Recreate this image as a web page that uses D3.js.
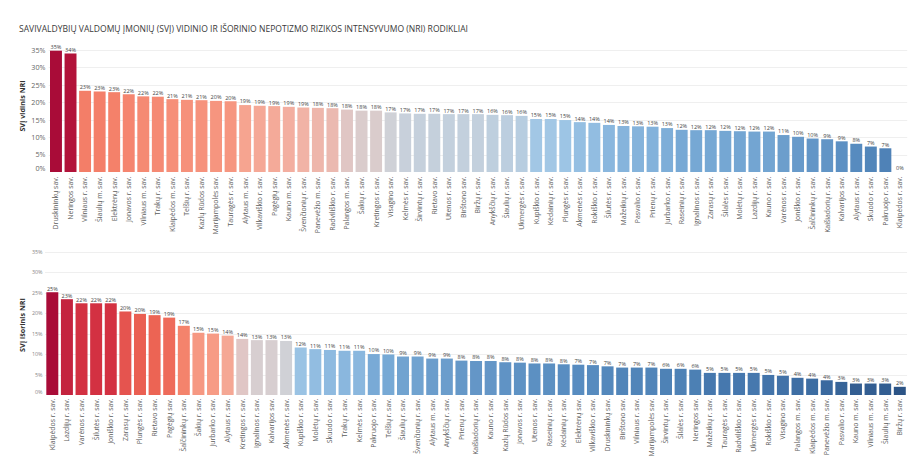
<!DOCTYPE html>
<html>
<head>
<meta charset="utf-8">
<script src="https://cdn.jsdelivr.net/npm/d3@7"></script>
<style>
  html, body { margin: 0; padding: 0; background: #fff; }
  svg { display: block; font-family: "Open Sans", "Noto Sans", sans-serif; }
</style>
</head>
<body>
<svg id="chart" width="920" height="476"></svg>
<script>
// ---------- DATA ----------
const titleText = "SAVIVALDYBIŲ VALDOMŲ ĮMONIŲ (SVĮ) VIDINIO IR IŠORINIO NEPOTIZMO RIZIKOS INTENSYVUMO (NRI) RODIKLIAI";

const innerCategories = [
  "Druskininkų sav.","Neringos sav.","Vilniaus r. sav.","Šiaulių m. sav.","Elektrėnų sav.",
  "Jonavos r. sav.","Vilniaus m. sav.","Trakų r. sav.","Klaipėdos m. sav.","Telšių r. sav.",
  "Kazlų Rūdos sav.","Marijampolės sav.","Tauragės r. sav.","Alytaus m. sav.","Vilkaviškio r. sav.",
  "Pagėgių sav.","Kauno m. sav.","Švenčionių r. sav.","Panevėžio m. sav.","Radviliškio r. sav.",
  "Palangos m. sav.","Šakių r. sav.","Kretingos r. sav.","Visagino sav.","Kelmės r. sav.",
  "Širvintų r. sav.","Rietavo sav.","Utenos r. sav.","Birštono sav.","Biržų r. sav.",
  "Anykščių r. sav.","Šiaulių r. sav.","Ukmergės r. sav.","Kupiškio r. sav.","Kėdainių r. sav.",
  "Plungės r. sav.","Akmenės r. sav.","Rokiškio r. sav.","Šilutės r. sav.","Mažeikių r. sav.",
  "Pasvalio r. sav.","Prienų r. sav.","Jurbarko r. sav.","Raseinių r. sav.","Ignalinos r. sav.",
  "Zarasų r. sav.","Šilalės r. sav.","Molėtų r. sav.","Lazdijų r. sav.","Kauno r. sav.",
  "Varėnos r. sav.","Joniškio r. sav.","Šalčininkų r. sav.","Kaišiadorių r. sav.","Kalvarijos sav.",
  "Alytaus r. sav.","Skuodo r. sav.","Pakruojo r. sav.","Klaipėdos r. sav."
];
const innerValues = [
  34.8,34.0,23.3,23.1,22.9,22.3,21.7,21.6,20.9,20.7,
  20.6,20.4,20.3,19.2,19.0,18.9,18.7,18.5,18.4,18.3,
  17.9,17.6,17.6,17.1,16.8,16.7,16.7,16.6,16.6,16.6,
  16.4,16.3,16.1,15.2,15.2,14.9,14.3,14.1,13.5,13.2,
  13.1,13.0,12.6,12.1,12.0,12.0,11.8,11.7,11.6,11.6,
  10.6,10.1,9.6,9.4,8.8,8.1,7.3,6.8,0
];
const innerLabels = [
  35,34,23,23,23,22,22,22,21,21,
  21,20,20,19,19,19,19,19,18,18,
  18,18,18,17,17,17,17,17,17,17,
  16,16,16,15,15,15,14,14,14,13,
  13,13,13,12,12,12,12,12,12,12,
  11,10,10,9,9,8,7,7,0
];

const outerCategories = [
  "Klaipėdos r. sav.","Lazdijų r. sav.","Varėnos r. sav.","Šilutės r. sav.","Joniškio r. sav.",
  "Zarasų r. sav.","Plungės r. sav.","Rietavo sav.","Pagėgių sav.","Šalčininkų r. sav.",
  "Šakių r. sav.","Jurbarko r. sav.","Alytaus r. sav.","Kretingos r. sav.","Ignalinos r. sav.",
  "Kalvarijos sav.","Akmenės r. sav.","Kupiškio r. sav.","Molėtų r. sav.","Skuodo r. sav.",
  "Trakų r. sav.","Kelmės r. sav.","Pakruojo r. sav.","Telšių r. sav.","Šiaulių r. sav.",
  "Švenčionių r. sav.","Alytaus m. sav.","Anykščių r. sav.","Prienų r. sav.","Kaišiadorių r. sav.",
  "Kauno r. sav.","Kazlų Rūdos sav.","Jonavos r. sav.","Utenos r. sav.","Raseinių r. sav.",
  "Kėdainių r. sav.","Elektrėnų sav.","Vilkaviškio r. sav.","Druskininkų sav.","Birštono sav.",
  "Vilniaus r. sav.","Marijampolės sav.","Širvintų r. sav.","Šilalės r. sav.","Neringos sav.",
  "Mažeikių r. sav.","Tauragės r. sav.","Radviliškio r. sav.","Ukmergės r. sav.","Rokiškio r. sav.",
  "Visagino sav.","Palangos m. sav.","Klaipėdos m. sav.","Panevėžio m. sav.","Pasvalio r. sav.",
  "Kauno m. sav.","Vilniaus m. sav.","Šiaulių m. sav.","Biržų r. sav."
];
const outerValues = [
  25.1,23.4,22.4,22.4,22.4,20.4,19.8,19.5,18.9,16.9,
  15.2,15.0,14.5,13.7,13.4,13.4,13.2,11.6,11.2,11.0,
  10.8,10.8,10.0,9.9,9.4,9.4,8.9,8.9,8.4,8.3,
  8.3,8.0,7.9,7.7,7.7,7.5,7.4,7.3,7.0,6.7,
  6.7,6.7,6.4,6.4,6.2,5.4,5.4,5.4,5.4,4.9,
  4.7,4.2,4.0,3.6,3.2,2.8,2.8,2.8,2.0
];
const outerLabels = [
  25,23,22,22,22,20,20,19,19,17,
  15,15,14,14,13,13,13,12,11,11,
  11,11,10,10,9,9,9,9,8,8,
  8,8,8,8,8,8,7,7,7,7,
  7,7,6,6,6,5,5,5,5,5,
  5,4,4,4,3,3,3,3,2
];

const yTicks = [0,5,10,15,20,25,30,35];

// diverging palette (position -1 = blue end, 0 = grey centre, +1 = red end)
const paletteStops = [-1,-0.85,-0.65,-0.5,-0.4,-0.3,-0.2,-0.13,-0.07,-0.035,0,0.035,0.07,0.12,0.2,0.32,0.53,0.78,1];
const paletteColors = ["#2c5486","#3b6aa0","#4a7db2","#5b8fc2","#6a9ccb","#77a9d5","#8fbbe0","#9fc6e6","#b7cde0","#c5d0dc",
  "#d4d1d4","#e0c6c4","#f2b2a5","#f7a08a","#f6907a","#f4816a","#ec6354","#d22f41","#a90c38"];

// ---------- DRAW ----------
const svg = d3.select("#chart");

svg.append("text")
  .attr("x", 19).attr("y", 32)
  .attr("fill", "#3a3a3a")
  .attr("font-size", 8.8)
  .attr("font-weight", 500)
  .attr("textLength", 449)
  .attr("lengthAdjust", "spacingAndGlyphs")
  .text(titleText);

const palette = d3.scaleLinear().domain(paletteStops).range(paletteColors)
  .interpolate(d3.interpolateRgb).clamp(true);

function drawPanel(cfg) {
  const g = svg.append("g");
  const x = d3.scaleBand().domain(cfg.categories).range(cfg.xRange)
    .paddingInner(0.18).paddingOuter(0.09);
  const y = d3.scaleLinear().domain([0, 35]).range(cfg.yRange);

  const vmin = d3.min(cfg.values), vmax = d3.max(cfg.values), c = cfg.center;
  const colorOf = v => palette(v >= c ? (v - c) / (vmax - c) : (v - c) / (c - vmin));

  // gridlines
  g.append("g").selectAll("line").data(yTicks.filter(t => t > 0)).join("line")
    .attr("x1", cfg.xRange[0]).attr("x2", cfg.xRange[1])
    .attr("y1", d => Math.round(y(d)) + 0.5).attr("y2", d => Math.round(y(d)) + 0.5)
    .attr("stroke", "#efefef").attr("stroke-width", 1);

  // y axis
  const yAxis = d3.axisLeft(y).tickValues(yTicks).tickFormat(d => d + "%").tickSize(0).tickPadding(0);
  const ya = g.append("g").attr("transform", `translate(${cfg.yLabelX},0)`).call(yAxis);
  ya.select(".domain").remove();
  ya.selectAll("text")
    .attr("fill", cfg.tickColor).attr("font-size", cfg.tickSize)
    .attr("font-family", "'Open Sans', sans-serif")
    .attr("dy", d => d === 0 ? (-cfg.zeroShift) + "px" : "0.32em");

  // axis title
  g.append("text")
    .attr("transform", `translate(${cfg.titleX},${cfg.titleY}) rotate(-90)`)
    .attr("text-anchor", "middle")
    .attr("font-size", 7.2).attr("font-weight", 700).attr("fill", "#333")
    .text(cfg.axisTitle);

  // bars
  g.append("g").selectAll("rect").data(cfg.values).join("rect")
    .attr("x", (d, i) => x(cfg.categories[i]))
    .attr("width", x.bandwidth())
    .attr("y", d => y(d))
    .attr("height", d => y(0) - y(d))
    .attr("fill", d => colorOf(d));

  // value labels
  g.append("g").selectAll("text").data(cfg.values).join("text")
    .attr("x", (d, i) => x(cfg.categories[i]) + x.bandwidth() / 2)
    .attr("y", d => y(d) - 1.6)
    .attr("text-anchor", "middle")
    .attr("font-size", 5.5).attr("fill", "#444")
    .text((d, i) => cfg.labels[i] + "%");

  // x axis
  const xAxis = d3.axisBottom(x).tickSize(0).tickPadding(0);
  const xa = g.append("g").attr("transform", `translate(0,${cfg.yRange[0]})`).call(xAxis);
  xa.select(".domain").remove();
  xa.selectAll("text")
    .attr("transform", `translate(0,${cfg.xLabelGap}) rotate(-90)`)
    .attr("text-anchor", "end")
    .attr("x", 0).attr("y", 0).attr("dy", "0.35em")
    .attr("font-size", 6.9).attr("fill", "#5c5c5c")
    .attr("font-family", "'Open Sans', sans-serif");
}

drawPanel({
  categories: innerCategories, values: innerValues, labels: innerLabels,
  xRange: [48.7, 907.2], yRange: [172, 50], center: 17.3,
  yLabelX: 45.5, tickSize: 7.2, tickColor: "#666", zeroShift: 1.2,
  titleX: 25, titleY: 106, axisTitle: "SVĮ vidinis NRI", xLabelGap: 4.5
});

drawPanel({
  categories: outerCategories, values: outerValues, labels: outerLabels,
  xRange: [45.0, 907.1], yRange: [395, 251.7], center: 13.3,
  yLabelX: 42.5, tickSize: 5.4, tickColor: "#888", zeroShift: 1.5,
  titleX: 25, titleY: 325, axisTitle: "SVĮ išorinis NRI", xLabelGap: 3.5
});
</script>
</body>
</html>
